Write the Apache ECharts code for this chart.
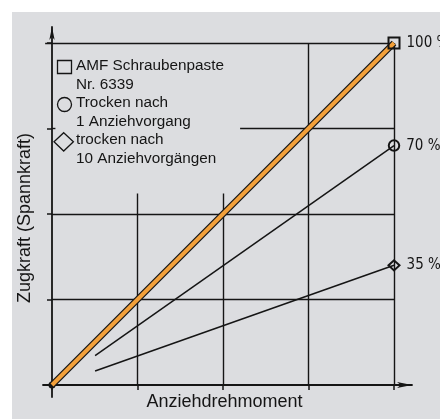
<!DOCTYPE html>
<html>
<head>
<meta charset="utf-8">
<script src="https://cdn.jsdelivr.net/npm/echarts@6/dist/echarts.min.js"></script>
<style>
  html, body { margin: 0; padding: 0; background: #fff; }
  #wrap { position: relative; width: 440px; height: 419px; overflow: hidden; }
  #paper { position: absolute; left: 12px; top: 12px; right: 0; bottom: 0; background: #dcdde0; }
  #chart { position: absolute; left: 0; top: 0; width: 440px; height: 419px; }
</style>
</head>
<body>
<div id="wrap"><div id="paper"></div><div id="chart"></div></div>
<script>
// Zugkraft über Anziehdrehmoment, in Prozent des Endwerts
const seriesNames = ['AMF Schraubenpaste Nr. 6339', 'Trocken nach 1 Anziehvorgang', 'trocken nach 10 Anziehvorgängen'];
const pasteValues = [[0, 0], [100, 100]];
const dryOnceValues = [[12.6, 8.6], [100, 70]];
const dryTenValues = [[12.6, 4.1], [100, 35]];
const tickValues = [0, 25, 50, 75, 100];
const legendLines = ['AMF Schraubenpaste', 'Nr. 6339', 'Trocken nach', '1 Anziehvorgang', 'trocken nach', '10 Anziehvorgängen'];
// partial grid lines (data units), left open behind the legend block
const gridSegments = [
  [[25, 0], [25, 56]],
  [[50, 0], [50, 56]],
  [[75, 0], [75, 100]],
  [[100, 0], [100, 100]],
  [[0, 25], [100, 25]],
  [[0, 50], [100, 50]],
  [[55, 75], [100, 75]],
  [[0, 75], [1, 75]],
  [[-2, 100], [100, 100]]
];

const INK = '#151515';
const ORANGE = '#f2a03a';

// data items: symbol + value label only on the end point
function endMarked(values, symbol) {
  const last = values.length - 1;
  return values.map((v, i) => ({
    value: v,
    symbol: i === last ? symbol : 'none',
    label: { show: i === last }
  }));
}

const endLabel = {
  show: false,
  position: 'right',
  distance: 6,
  color: INK,
  fontWeight: 'normal condensed',
  fontFamily: "'DejaVu Sans'",
  fontSize: 15,
  formatter: p => p.value[1] + ' %'
};
const hollowMarker = { color: 'rgba(0,0,0,0)', borderColor: INK, borderWidth: 2 };

const chart = echarts.init(document.getElementById('chart'), null, { renderer: 'canvas' });
chart.setOption({
  animation: false,
  backgroundColor: 'transparent',
  grid: { left: 43, right: 28, top: 27, bottom: 22, containLabel: false, outerBoundsMode: 'none' },
  xAxis: {
    type: 'value', min: -2.63, max: 105.26,
    axisLine: { show: true, onZero: true, symbol: ['none', 'arrow'], symbolSize: [4.5, 15], lineStyle: { color: INK, width: 1.8 } },
    axisTick: { show: true, customValues: tickValues, length: 5, lineStyle: { color: INK, width: 1.5 } },
    axisLabel: { show: false },
    splitLine: { show: false },
    name: 'Anziehdrehmoment', nameLocation: 'middle', nameGap: -4,
    nameTextStyle: { fontSize: 18, fontFamily: 'Liberation Sans', color: INK, padding: [0, 6, 0, 0] }
  },
  yAxis: {
    type: 'value', min: -3.5, max: 104.68,
    axisLine: { show: true, onZero: true, symbol: ['none', 'arrow'], symbolSize: [4, 13], lineStyle: { color: INK, width: 1.8 } },
    axisTick: { show: true, customValues: tickValues, length: 5, lineStyle: { color: INK, width: 1.5 } },
    axisLabel: { show: false },
    splitLine: { show: false },
    name: 'Zugkraft (Spannkraft)', nameLocation: 'middle', nameGap: 9,
    nameTextStyle: { fontSize: 18, fontFamily: 'Liberation Sans', color: INK, padding: [0, 12, 0, 0] }
  },
  graphic: [
    { type: 'rect', shape: { x: 57.5, y: 60.5, width: 14, height: 13 }, style: { fill: 'none', stroke: INK, lineWidth: 1.3 } },
    { type: 'circle', shape: { cx: 64.5, cy: 104.5, r: 7 }, style: { fill: 'none', stroke: INK, lineWidth: 1.3 } },
    { type: 'polygon', shape: { points: [[63.7, 132.7], [73.4, 141.8], [63.7, 151], [54, 141.8]] }, style: { fill: 'none', stroke: INK, lineWidth: 1.3 } },
    { type: 'text', x: 76, y: 57, style: { text: legendLines.join('\n'), fontSize: 15.3, fontFamily: 'Liberation Sans', lineHeight: 18.5, fill: INK, verticalAlign: 'top' } }
  ],
  series: [
    {
      type: 'lines', coordinateSystem: 'cartesian2d', polyline: false, clip: false, silent: true, z: 1,
      data: gridSegments.map(c => ({ coords: c })),
      lineStyle: { color: INK, width: 1.4, opacity: 1 }
    },
    {
      name: seriesNames[1], type: 'line', z: 3, clip: false,
      data: endMarked(dryOnceValues, 'circle'),
      symbolSize: 10.5, itemStyle: hollowMarker,
      lineStyle: { color: INK, width: 1.5 }, label: endLabel
    },
    {
      name: seriesNames[2], type: 'line', z: 3, clip: false,
      data: endMarked(dryTenValues, 'diamond'),
      symbolSize: [11, 10], itemStyle: hollowMarker,
      lineStyle: { color: INK, width: 1.5 }, label: endLabel
    },
    {
      // dark edge under the orange paste line, with the dot at the origin
      type: 'line', z: 4, clip: false, silent: true,
      data: pasteValues.map((v, i) => ({ value: v, symbol: i === 0 ? 'circle' : 'none' })),
      symbolSize: 7, itemStyle: { color: INK },
      lineStyle: { color: INK, width: 6.5 }
    },
    {
      name: seriesNames[0], type: 'line', z: 5, clip: false,
      data: endMarked(pasteValues, 'rect'),
      symbolSize: 11, itemStyle: hollowMarker,
      lineStyle: { color: ORANGE, width: 4 }, label: endLabel
    }
  ]
});
</script>
</body>
</html>
